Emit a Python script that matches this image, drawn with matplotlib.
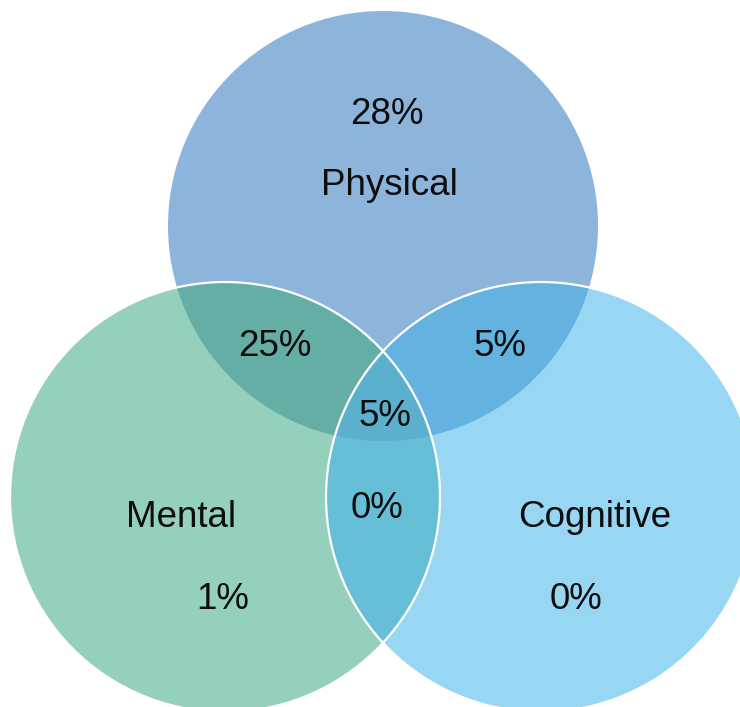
import numpy as np
import matplotlib
matplotlib.use("Agg")
import matplotlib.pyplot as plt
from matplotlib.patches import Circle, Polygon

plt.rcParams["font.family"] = ["Liberation Sans", "DejaVu Sans"]

# sets and the share of respondents in each region of the diagram
SETS = ["Physical", "Mental", "Cognitive"]
ONLY = ["28%", "1%", "0%"]
PHYS_MENT = "25%"
PHYS_COGN = "5%"
MENT_COGN = "0%"
ALL_THREE = "5%"

# layout in pixel space (y grows downward)
CENTERS = [(383, 226), (225, 497), (541, 497)]
RADIUS = 215
BASE_COLORS = ["#8db5db", "#94d0bc", "#97d7f3"]
PAIR_COLORS = {(0, 1): "#65aea5", (0, 2): "#63b2e0", (1, 2): "#66bed7"}
TRIPLE_COLOR = "#5bb0cd"

SET_LABEL_POS = [(389, 195), (181, 527), (595, 527)]
ONLY_LABEL_POS = [(387, 124), (223, 609), (576, 609)]
PAIR_LABEL_POS = {(0, 1): (275, 356), (0, 2): (500, 356), (1, 2): (377, 518)}
TRIPLE_LABEL_POS = (385, 426)


def disc(ax, i, **kw):
    return Circle(CENTERS[i], RADIUS, transform=ax.transData, **kw)


def lens(ax, i, j, **kw):
    # outline of the overlap of two equal circles
    a = np.array(CENTERS[i], float)
    b = np.array(CENTERS[j], float)
    d = np.linalg.norm(b - a)
    phi = np.arctan2(*(b - a)[::-1])
    alpha = np.arccos(d / (2 * RADIUS))
    t1 = np.linspace(phi - alpha, phi + alpha, 200)
    t2 = np.linspace(phi + np.pi - alpha, phi + np.pi + alpha, 200)
    pts = np.vstack([
        np.c_[a[0] + RADIUS * np.cos(t1), a[1] + RADIUS * np.sin(t1)],
        np.c_[b[0] + RADIUS * np.cos(t2), b[1] + RADIUS * np.sin(t2)],
    ])
    return Polygon(pts, closed=True, transform=ax.transData, **kw)


fig = plt.figure(figsize=(7.4, 7.07), dpi=100)
ax = fig.add_axes([0, 0, 1, 1])
ax.set_xlim(0, 740)
ax.set_ylim(707, 0)
ax.set_aspect("equal")
ax.axis("off")

for i, color in enumerate(BASE_COLORS):
    ax.add_patch(disc(ax, i, fc=color, ec="none", zorder=1))

for (i, j), color in PAIR_COLORS.items():
    p = disc(ax, i, fc=color, ec="none", zorder=2)
    ax.add_patch(p)
    p.set_clip_path(disc(ax, j))

centre = disc(ax, 0, fc=TRIPLE_COLOR, ec="none", zorder=3)
ax.add_patch(centre)
centre.set_clip_path(lens(ax, 1, 2))

# white rims on the two lower circles
for i in (1, 2):
    ax.add_patch(disc(ax, i, fc="none", ec="white", lw=1.6, zorder=4))

txt = dict(fontsize=26.5, color="#0d0d0d", ha="center", va="baseline", zorder=5)
for name, pos in zip(SETS, SET_LABEL_POS):
    ax.text(*pos, name, **txt)
for val, pos in zip(ONLY, ONLY_LABEL_POS):
    ax.text(*pos, val, **txt)
ax.text(*PAIR_LABEL_POS[(0, 1)], PHYS_MENT, **txt)
ax.text(*PAIR_LABEL_POS[(0, 2)], PHYS_COGN, **txt)
ax.text(*PAIR_LABEL_POS[(1, 2)], MENT_COGN, **txt)
ax.text(*TRIPLE_LABEL_POS, ALL_THREE, **txt)

fig.savefig("out.png", dpi=100, facecolor="white")
plt.close(fig)
